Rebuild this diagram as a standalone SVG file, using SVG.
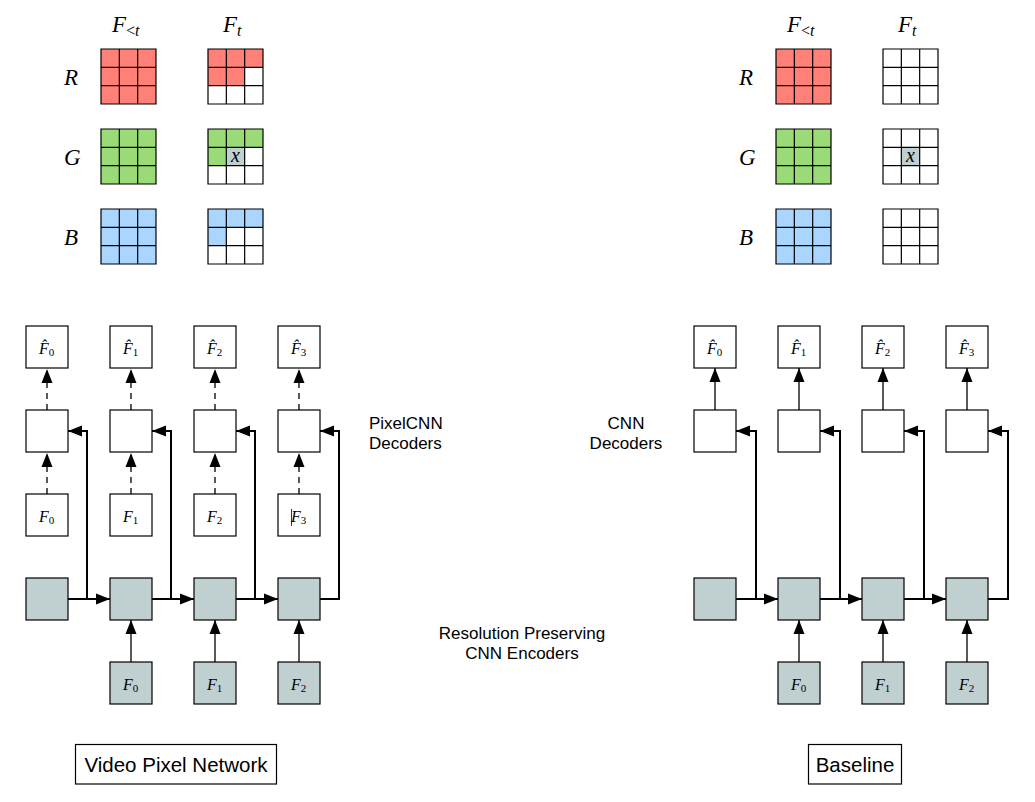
<svg xmlns="http://www.w3.org/2000/svg" xmlns:xlink="http://www.w3.org/1999/xlink" width="1035" height="802" viewBox="0 0 1035 802">
<style>
.bx{fill:#fff;stroke:#000;stroke-width:1.2}
.gb{fill:#c0cfcf;stroke:#000;stroke-width:1.2}
.gl{fill:none;stroke:#000;stroke-width:1.2}
.r{fill:#ff8077}.g{fill:#9adb77}.b{fill:#aad5ff}.gy{fill:#c0cfcf}
.m{font-family:"Liberation Serif",serif;font-style:italic;font-size:16px;fill:#000}
.s{font-family:"Liberation Serif",serif;font-style:normal;font-size:11px}
.xv{font-family:"Liberation Serif",serif;font-style:italic;font-size:20px;fill:#000}
.big{font-family:"Liberation Serif",serif;font-style:italic;font-size:23px;fill:#000}
.sb{font-size:16px}
.bs{font-style:normal;font-size:16px}
.lab{font-family:"Liberation Sans",Arial,sans-serif;font-size:17px;fill:#000}
.ttl{font-family:"Liberation Sans",Arial,sans-serif;font-size:20.5px;fill:#000}
.c{fill:none;stroke:#000;stroke-width:2}
.ct{fill:none;stroke:#000;stroke-width:1.3}
.d{fill:none;stroke:#000;stroke-width:1.3;stroke-dasharray:6 5}
</style>
<defs>
<marker id="ah" markerUnits="userSpaceOnUse" markerWidth="16" markerHeight="12" refX="14" refY="6" orient="auto">
<path d="M0,0.5 L14,6 L0,11.5 z" fill="#000"/>
</marker>
<path id="grid" d="M0,0h55v55h-55z M18.33,0v55 M36.67,0v55 M0,18.33h55 M0,36.67h55"/>
</defs>

<!-- top headers -->
<g id="headers">
<text class="big" x="112" y="32">F<tspan class="bs" dy="4">&lt;</tspan><tspan class="sb" dy="0">t</tspan></text>
<text class="big" x="223" y="32">F<tspan class="sb" dy="4">t</tspan></text>
<text class="big" x="64" y="85">R</text>
<text class="big" x="64" y="165">G</text>
<text class="big" x="64" y="245">B</text>
<text class="big" x="787" y="32">F<tspan class="bs" dy="4">&lt;</tspan><tspan class="sb" dy="0">t</tspan></text>
<text class="big" x="898" y="32">F<tspan class="sb" dy="4">t</tspan></text>
<text class="big" x="739" y="85">R</text>
<text class="big" x="739" y="165">G</text>
<text class="big" x="739" y="245">B</text>
</g>

<!-- left grids -->
<g id="grid-L-R-past" transform="translate(101,49)"><rect class="r" width="55" height="55"/><use xlink:href="#grid" class="gl"/></g>
<g id="grid-L-G-past" transform="translate(101,129)"><rect class="g" width="55" height="55"/><use xlink:href="#grid" class="gl"/></g>
<g id="grid-L-B-past" transform="translate(101,209)"><rect class="b" width="55" height="55"/><use xlink:href="#grid" class="gl"/></g>
<g id="grid-L-R-cur" transform="translate(208,49)"><rect fill="#fff" width="55" height="55"/><rect class="r" width="55" height="18.33"/><rect class="r" y="18.33" width="36.67" height="18.33"/><use xlink:href="#grid" class="gl"/></g>
<g id="grid-L-G-cur" transform="translate(208,129)"><rect fill="#fff" width="55" height="55"/><rect class="g" width="55" height="18.33"/><rect class="g" y="18.33" width="18.33" height="18.33"/><rect class="gy" x="18.33" y="18.33" width="18.33" height="18.33"/><use xlink:href="#grid" class="gl"/><text class="xv" x="27.5" y="32.5" text-anchor="middle">x</text></g>
<g id="grid-L-B-cur" transform="translate(208,209)"><rect fill="#fff" width="55" height="55"/><rect class="b" width="55" height="18.33"/><rect class="b" y="18.33" width="18.33" height="18.33"/><use xlink:href="#grid" class="gl"/></g>

<!-- right grids -->
<g id="grid-R-R-past" transform="translate(776,49)"><rect class="r" width="55" height="55"/><use xlink:href="#grid" class="gl"/></g>
<g id="grid-R-G-past" transform="translate(776,129)"><rect class="g" width="55" height="55"/><use xlink:href="#grid" class="gl"/></g>
<g id="grid-R-B-past" transform="translate(776,209)"><rect class="b" width="55" height="55"/><use xlink:href="#grid" class="gl"/></g>
<g id="grid-R-R-cur" transform="translate(883,49)"><rect fill="#fff" width="55" height="55"/><use xlink:href="#grid" class="gl"/></g>
<g id="grid-R-G-cur" transform="translate(883,129)"><rect fill="#fff" width="55" height="55"/><rect class="gy" x="18.33" y="18.33" width="18.33" height="18.33"/><use xlink:href="#grid" class="gl"/><text class="xv" x="27.5" y="32.5" text-anchor="middle">x</text></g>
<g id="grid-R-B-cur" transform="translate(883,209)"><rect fill="#fff" width="55" height="55"/><use xlink:href="#grid" class="gl"/></g>

<!-- connectors -->
<g id="connectors">
<path class="d" d="M47,410V369" marker-end="url(#ah)"/>
<path class="d" d="M131,410V369" marker-end="url(#ah)"/>
<path class="d" d="M215,410V369" marker-end="url(#ah)"/>
<path class="d" d="M299,410V369" marker-end="url(#ah)"/>
<path class="d" d="M47,494V453" marker-end="url(#ah)"/>
<path class="d" d="M131,494V453" marker-end="url(#ah)"/>
<path class="d" d="M215,494V453" marker-end="url(#ah)"/>
<path class="d" d="M299,494V453" marker-end="url(#ah)"/>
<path class="c" d="M68,599H110" marker-end="url(#ah)"/>
<path class="c" d="M152,599H194" marker-end="url(#ah)"/>
<path class="c" d="M236,599H278" marker-end="url(#ah)"/>
<path class="c" d="M68,599H87V431H68" marker-end="url(#ah)"/>
<path class="c" d="M152,599H171V431H152" marker-end="url(#ah)"/>
<path class="c" d="M236,599H255V431H236" marker-end="url(#ah)"/>
<path class="c" d="M320,599H339V431H320" marker-end="url(#ah)"/>
<path class="ct" d="M131,662V620" marker-end="url(#ah)"/>
<path class="ct" d="M215,662V620" marker-end="url(#ah)"/>
<path class="ct" d="M299,662V620" marker-end="url(#ah)"/>
<path class="ct" d="M715,410V368" marker-end="url(#ah)"/>
<path class="ct" d="M799,410V368" marker-end="url(#ah)"/>
<path class="ct" d="M883,410V368" marker-end="url(#ah)"/>
<path class="ct" d="M967,410V368" marker-end="url(#ah)"/>
<path class="c" d="M736,599H778" marker-end="url(#ah)"/>
<path class="c" d="M820,599H862" marker-end="url(#ah)"/>
<path class="c" d="M904,599H946" marker-end="url(#ah)"/>
<path class="c" d="M736,599H756V431H736" marker-end="url(#ah)"/>
<path class="c" d="M820,599H840V431H820" marker-end="url(#ah)"/>
<path class="c" d="M904,599H924V431H904" marker-end="url(#ah)"/>
<path class="c" d="M988,599H1008V431H988" marker-end="url(#ah)"/>
<path class="ct" d="M799,662V620" marker-end="url(#ah)"/>
<path class="ct" d="M883,662V620" marker-end="url(#ah)"/>
<path class="ct" d="M967,662V620" marker-end="url(#ah)"/>
</g>

<!-- left network nodes -->
<g id="L-out0"><rect class="bx" x="26" y="326" width="42" height="42"/><text class="m" x="39" y="354">F̂<tspan class="s" dy="2">0</tspan></text></g>
<g id="L-out1"><rect class="bx" x="110" y="326" width="42" height="42"/><text class="m" x="123" y="354">F̂<tspan class="s" dy="2">1</tspan></text></g>
<g id="L-out2"><rect class="bx" x="194" y="326" width="42" height="42"/><text class="m" x="207" y="354">F̂<tspan class="s" dy="2">2</tspan></text></g>
<g id="L-out3"><rect class="bx" x="278" y="326" width="42" height="42"/><text class="m" x="291" y="354">F̂<tspan class="s" dy="2">3</tspan></text></g>
<g id="L-dec0"><rect class="bx" x="26" y="410" width="42" height="42"/></g>
<g id="L-dec1"><rect class="bx" x="110" y="410" width="42" height="42"/></g>
<g id="L-dec2"><rect class="bx" x="194" y="410" width="42" height="42"/></g>
<g id="L-dec3"><rect class="bx" x="278" y="410" width="42" height="42"/></g>
<g id="L-in0"><rect class="bx" x="26" y="494" width="42" height="42"/><text class="m" x="39" y="522">F<tspan class="s" dy="2">0</tspan></text></g>
<g id="L-in1"><rect class="bx" x="110" y="494" width="42" height="42"/><text class="m" x="123" y="522">F<tspan class="s" dy="2">1</tspan></text></g>
<g id="L-in2"><rect class="bx" x="194" y="494" width="42" height="42"/><text class="m" x="207" y="522">F<tspan class="s" dy="2">2</tspan></text></g>
<g id="L-in3"><rect class="bx" x="278" y="494" width="42" height="42"/><text class="m" x="291" y="522">F<tspan class="s" dy="2">3</tspan></text><path d="M291.5,509V526" stroke="#000" stroke-width="0.8"/></g>
<g id="L-enc0"><rect class="gb" x="26" y="578" width="42" height="42"/></g>
<g id="L-enc1"><rect class="gb" x="110" y="578" width="42" height="42"/></g>
<g id="L-enc2"><rect class="gb" x="194" y="578" width="42" height="42"/></g>
<g id="L-enc3"><rect class="gb" x="278" y="578" width="42" height="42"/></g>
<g id="L-src0"><rect class="gb" x="110" y="662" width="42" height="42"/><text class="m" x="123" y="690">F<tspan class="s" dy="2">0</tspan></text></g>
<g id="L-src1"><rect class="gb" x="194" y="662" width="42" height="42"/><text class="m" x="207" y="690">F<tspan class="s" dy="2">1</tspan></text></g>
<g id="L-src2"><rect class="gb" x="278" y="662" width="42" height="42"/><text class="m" x="291" y="690">F<tspan class="s" dy="2">2</tspan></text></g>

<!-- right network nodes -->
<g id="R-out0"><rect class="bx" x="694" y="326" width="42" height="42"/><text class="m" x="707" y="354">F̂<tspan class="s" dy="2">0</tspan></text></g>
<g id="R-out1"><rect class="bx" x="778" y="326" width="42" height="42"/><text class="m" x="791" y="354">F̂<tspan class="s" dy="2">1</tspan></text></g>
<g id="R-out2"><rect class="bx" x="862" y="326" width="42" height="42"/><text class="m" x="875" y="354">F̂<tspan class="s" dy="2">2</tspan></text></g>
<g id="R-out3"><rect class="bx" x="946" y="326" width="42" height="42"/><text class="m" x="959" y="354">F̂<tspan class="s" dy="2">3</tspan></text></g>
<g id="R-dec0"><rect class="bx" x="694" y="410" width="42" height="42"/></g>
<g id="R-dec1"><rect class="bx" x="778" y="410" width="42" height="42"/></g>
<g id="R-dec2"><rect class="bx" x="862" y="410" width="42" height="42"/></g>
<g id="R-dec3"><rect class="bx" x="946" y="410" width="42" height="42"/></g>
<g id="R-enc0"><rect class="gb" x="694" y="578" width="42" height="42"/></g>
<g id="R-enc1"><rect class="gb" x="778" y="578" width="42" height="42"/></g>
<g id="R-enc2"><rect class="gb" x="862" y="578" width="42" height="42"/></g>
<g id="R-enc3"><rect class="gb" x="946" y="578" width="42" height="42"/></g>
<g id="R-src0"><rect class="gb" x="778" y="662" width="42" height="42"/><text class="m" x="791" y="690">F<tspan class="s" dy="2">0</tspan></text></g>
<g id="R-src1"><rect class="gb" x="862" y="662" width="42" height="42"/><text class="m" x="875" y="690">F<tspan class="s" dy="2">1</tspan></text></g>
<g id="R-src2"><rect class="gb" x="946" y="662" width="42" height="42"/><text class="m" x="959" y="690">F<tspan class="s" dy="2">2</tspan></text></g>

<!-- labels -->
<g id="label-pixelcnn"><text class="lab" x="369" y="429">PixelCNN</text><text class="lab" x="369" y="449">Decoders</text></g>
<g id="label-cnn"><text class="lab" x="626" y="429" text-anchor="middle">CNN</text><text class="lab" x="626" y="449" text-anchor="middle">Decoders</text></g>
<g id="label-enc"><text class="lab" x="522" y="639" text-anchor="middle">Resolution Preserving</text><text class="lab" x="522" y="659" text-anchor="middle">CNN Encoders</text></g>
<g id="title-vpn"><rect x="75.5" y="744.5" width="201" height="39.5" fill="#fff" stroke="#000" stroke-width="1.2"/><text class="ttl" x="176" y="772" text-anchor="middle">Video Pixel Network</text></g>
<g id="title-baseline"><rect x="808.5" y="744.5" width="93" height="39.5" fill="#fff" stroke="#000" stroke-width="1.2"/><text class="ttl" x="855" y="772" text-anchor="middle">Baseline</text></g>
</svg>
